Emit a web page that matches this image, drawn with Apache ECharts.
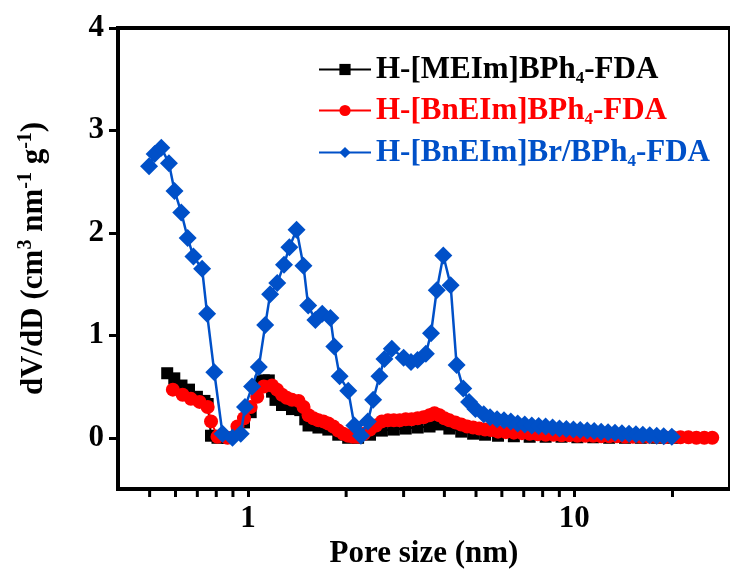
<!DOCTYPE html>
<html>
<head>
<meta charset="utf-8">
<script src="https://cdn.jsdelivr.net/npm/echarts@6/dist/echarts.min.js"></script>
<style>html,body{margin:0;padding:0;background:#fff;}#c{width:730px;height:577px;}</style>
</head>
<body>
<div id="c"></div>
<script>
// ---- data ----
const seriesNames = ['H-[MEIm]BPh4-FDA', 'H-[BnEIm]BPh4-FDA', 'H-[BnEIm]Br/BPh4-FDA'];

const blackX = [0.566, 0.595, 0.626, 0.660, 0.698, 0.736, 0.753, 0.771, 0.807, 0.866, 0.929, 0.973, 1.020, 1.068, 1.094, 1.119, 1.159, 1.186, 1.215, 1.272, 1.365, 1.447, 1.499, 1.534, 1.645, 1.764, 1.892, 2.029, 2.176, 2.367, 2.574, 2.800, 3.045, 3.313, 3.602, 3.863, 4.143, 4.506, 4.900, 5.330, 5.84, 6.53, 7.30, 8.17, 9.14, 10.22, 11.43, 12.79, 14.30, 15.99, 17.89, 20.01];
const blackY = [0.63, 0.58, 0.51, 0.47, 0.40, 0.36, 0.33, 0.02, 0.00, 0.00, 0.05, 0.15, 0.25, 0.45, 0.55, 0.56, 0.56, 0.45, 0.37, 0.32, 0.28, 0.27, 0.18, 0.12, 0.10, 0.08, 0.03, 0.00, 0.00, 0.03, 0.07, 0.08, 0.09, 0.10, 0.11, 0.13, 0.09, 0.06, 0.04, 0.03, 0.02, 0.015, 0.01, 0.01, 0.01, 0.005, 0.005, 0.0, 0.0, 0.0, 0.0, 0.0];

const redX = [0.589, 0.631, 0.669, 0.711, 0.753, 0.771, 0.807, 0.866, 0.929, 0.973, 1.020, 1.068, 1.119, 1.186, 1.228, 1.272, 1.315, 1.365, 1.430, 1.481, 1.534, 1.588, 1.645, 1.703, 1.764, 1.827, 1.892, 1.960, 2.029, 2.101, 2.176, 2.270, 2.367, 2.469, 2.574, 2.685, 2.800, 2.920, 3.045, 3.175, 3.313, 3.454, 3.602, 3.730, 3.863, 4.000, 4.143, 4.321, 4.506, 4.699, 4.900, 5.110, 5.330, 5.559, 5.84, 6.17, 6.53, 6.91, 7.30, 7.73, 8.17, 8.64, 9.14, 9.66, 10.22, 10.81, 11.43, 12.09, 12.79, 13.52, 14.30, 15.12, 15.99, 16.92, 17.89, 18.92, 20.01, 21.16, 22.38, 23.67, 25.03, 26.47];
const redY = [0.47, 0.42, 0.38, 0.35, 0.30, 0.16, 0.01, 0.00, 0.11, 0.19, 0.30, 0.40, 0.50, 0.51, 0.47, 0.42, 0.39, 0.37, 0.36, 0.30, 0.22, 0.19, 0.17, 0.16, 0.14, 0.11, 0.07, 0.04, 0.02, 0.01, 0.01, 0.04, 0.08, 0.12, 0.16, 0.17, 0.17, 0.17, 0.18, 0.18, 0.19, 0.20, 0.22, 0.24, 0.22, 0.19, 0.17, 0.15, 0.13, 0.11, 0.10, 0.09, 0.08, 0.075, 0.06, 0.055, 0.05, 0.045, 0.04, 0.035, 0.03, 0.03, 0.025, 0.025, 0.02, 0.02, 0.02, 0.015, 0.015, 0.015, 0.01, 0.01, 0.01, 0.01, 0.01, 0.005, 0.005, 0.005, 0.005, 0.0, 0.0, 0.0];

const blueX = [0.498, 0.518, 0.543, 0.573, 0.596, 0.625, 0.654, 0.681, 0.724, 0.750, 0.789, 0.836, 0.897, 0.951, 0.98, 1.03, 1.08, 1.13, 1.17, 1.23, 1.29, 1.34, 1.41, 1.48, 1.53, 1.61, 1.69, 1.79, 1.84, 1.91, 2.03, 2.12, 2.22, 2.33, 2.42, 2.53, 2.62, 2.76, 3.00, 3.16, 3.31, 3.51, 3.64, 3.79, 3.97, 4.18, 4.36, 4.57, 4.76, 4.98, 5.28, 5.52, 5.80, 6.09, 6.39, 6.71, 7.05, 7.41, 7.78, 8.17, 8.58, 9.01, 9.46, 9.94, 10.43, 10.96, 11.51, 12.09, 12.69, 13.33, 14.00, 14.71, 15.45, 16.22, 17.03, 17.89, 18.79, 19.9];
const blueY = [2.65, 2.77, 2.83, 2.68, 2.41, 2.20, 1.95, 1.77, 1.65, 1.21, 0.64, 0.04, 0.00, 0.04, 0.30, 0.50, 0.69, 1.10, 1.40, 1.51, 1.69, 1.86, 2.03, 1.68, 1.29, 1.15, 1.21, 1.17, 0.89, 0.60, 0.46, 0.12, 0.02, 0.16, 0.37, 0.60, 0.77, 0.87, 0.78, 0.74, 0.76, 0.82, 1.02, 1.44, 1.78, 1.49, 0.71, 0.48, 0.35, 0.28, 0.23, 0.20, 0.18, 0.17, 0.16, 0.14, 0.13, 0.12, 0.115, 0.11, 0.10, 0.09, 0.085, 0.08, 0.075, 0.07, 0.065, 0.06, 0.055, 0.05, 0.045, 0.04, 0.035, 0.03, 0.025, 0.02, 0.015, 0.01];

const xMin = 0.4, xMax = 30;
const yMin = -0.5, yMax = 4;
const xMinorTicks = [0.5, 0.6, 0.7, 0.8, 0.9, 2, 3, 4, 5, 6, 7, 8, 9, 20];

const colors = ['#000000', '#FF0000', '#0050C8'];
const symbols = ['rect', 'circle', 'diamond'];
const symbolSizes = [12, 14, 18];

// ---- chart ----
const FONT = '"Liberation Serif", "Times New Roman", serif';
const zip = (xs, ys) => xs.map((x, i) => [x, ys[i]]);
const allData = [zip(blackX, blackY), zip(redX, redY), zip(blueX, blueY)];

const chart = echarts.init(document.getElementById('c'), null, {renderer: 'canvas'});

const legendTops = [54, 95, 137];
const legends = seriesNames.map((name, i) => ({
  show: true,
  left: 318,
  top: legendTops[i],
  padding: 0,
  itemWidth: 52,
  itemHeight: 14,
  data: [{name: name}],
  selectedMode: false,
  formatter: n => '{n|' + n.replace('Ph4', 'Ph}{s|4}{n|') + '}',
  textStyle: {
    color: colors[i],
    fontFamily: FONT,
    fontWeight: 'bold',
    fontSize: 31,
    rich: {
      n: {color: colors[i], fontFamily: FONT, fontWeight: 'bold', fontSize: 31, lineHeight: 36},
      s: {color: colors[i], fontFamily: FONT, fontWeight: 'bold', fontSize: 17, verticalAlign: 'bottom', lineHeight: 30}
    }
  }
}));

const series = seriesNames.map((name, i) => ({
  name: name,
  type: 'line',
  data: allData[i],
  symbol: symbols[i],
  symbolSize: symbolSizes[i],
  showAllSymbol: true,
  lineStyle: {color: colors[i], width: i === 2 ? 2.5 : 2},
  itemStyle: {color: colors[i]},
  z: 3 + i,
  clip: false
}));

series.push({
  type: 'custom',
  silent: true,
  clip: false,
  data: xMinorTicks.map(v => [v, yMin]),
  encode: {x: 0, y: 1},
  renderItem: (params, api) => {
    const p = api.coord([api.value(0), api.value(1)]);
    return {type: 'line', shape: {x1: p[0], y1: p[1], x2: p[0], y2: p[1] + 8}, style: {stroke: '#000', lineWidth: 3}};
  },
  z: 10
});

const option = {
  animation: false,
  backgroundColor: '#ffffff',
  grid: {left: 118, top: 28, width: 617, height: 461, show: true, borderColor: '#000', borderWidth: 4, backgroundColor: 'transparent'},
  legend: legends,
  xAxis: {
    type: 'log',
    logBase: 10,
    min: xMin,
    max: xMax,
    name: 'Pore size (nm)',
    nameLocation: 'middle',
    nameGap: 46,
    nameTextStyle: {fontFamily: FONT, fontWeight: 'bold', fontSize: 31, color: '#000'},
    axisLine: {onZero: false, lineStyle: {color: '#000', width: 4}},
    axisTick: {show: true, inside: false, length: 8, lineStyle: {color: '#000', width: 3}},
    minorTick: {show: false},
    splitLine: {show: false},
    axisLabel: {showMinLabel: false, showMaxLabel: false, margin: 14, fontFamily: FONT, fontWeight: 'bold', fontSize: 31, color: '#000'}
  },
  yAxis: {
    type: 'value',
    min: yMin,
    max: yMax,
    name: '{n|dV/dD (cm}{p|3}{n| nm}{p|-1}{n| g}{p|-1}{n|)}',
    nameLocation: 'middle',
    nameGap: 66,
    nameTextStyle: {
      fontFamily: FONT, fontWeight: 'bold', fontSize: 31, color: '#000',
      rich: {
        n: {fontFamily: FONT, fontWeight: 'bold', fontSize: 31, color: '#000', lineHeight: 36},
        p: {fontFamily: FONT, fontWeight: 'bold', fontSize: 20, color: '#000', verticalAlign: 'top', lineHeight: 20}
      }
    },
    axisLine: {show: true, onZero: false, lineStyle: {color: '#000', width: 4}},
    axisTick: {show: true, inside: false, length: 9, lineStyle: {color: '#000', width: 3}},
    splitLine: {show: false},
    axisLabel: {showMinLabel: false, margin: 14, fontFamily: FONT, fontWeight: 'bold', fontSize: 31, color: '#000'}
  },
  series: series
};
chart.setOption(option);
</script>
</body>
</html>
